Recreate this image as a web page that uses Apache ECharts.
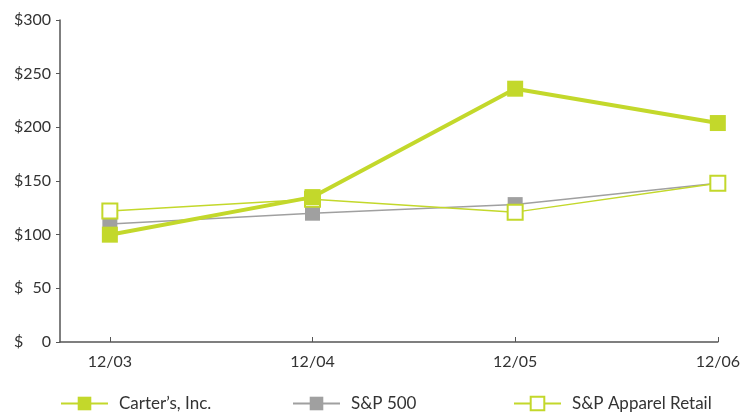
<!doctype html>
<html>
	<head>
		<meta charset="UTF-8">
		<title>Carter's performance</title>
		<script src="https://cdn.jsdelivr.net/npm/echarts@6/dist/echarts.min.js"></script>
		<style>
			html, body { margin: 0; padding: 0; background: #fff; }
			#chart { width: 743px; height: 413px; }
		</style>
	</head>
	<body>
		<div id="chart"></div>
		<script type="text/javascript">
			var categories = ['12/03', '12/04', '12/05', '12/06'];
			var carters = [100, 135, 236, 204];
			var sp500 = [110, 120, 128, 148];
			var apparel = [122, 133, 121, 148];
			var yTicks = [0, 50, 100, 150, 200, 250, 300];

			var green = '#c3d82b';
			var grey = '#a0a0a0';
			var textColor = '#333';
			var font = 'Lato';

			// x is a value axis so the y axis can sit left of the first category
			function toPoints(values) {
				var pts = [];
				for (var i = 0; i < values.length; i++) {
					pts.push([i, values[i]]);
				}
				return pts;
			}
			var idx = categories.map(function(c, i) { return i; });

			function legendFor(name, left) {
				return {
					data: [name],
					left: left,
					top: 390,
					itemWidth: 47,
					itemHeight: 17,
					itemGap: 0,
					textStyle: { fontFamily: font, fontSize: 17, color: textColor, padding: [0, 0, 0, 6] }
				};
			}

			var chart = echarts.init(document.getElementById('chart'));
			chart.setOption({
				animation: false,
				grid: { left: 60, right: 23, top: 20, bottom: 71 },
				legend: [
					legendFor("Carter’s, Inc.", 55),
					legendFor('S&P 500', 287),
					legendFor('S&P Apparel Retail', 508)
				],
				xAxis: {
					type: 'value',
					min: -0.246,
					max: categories.length - 1,
					splitLine: { show: false },
					axisLine: { lineStyle: { color: '#555', width: 1.5 } },
					axisTick: { inside: true, length: 5, customValues: idx, lineStyle: { color: '#555' } },
					axisLabel: {
						customValues: idx,
						margin: 12,
						fontFamily: font, fontSize: 16, color: textColor,
						formatter: function(v) { return categories[Math.round(v)]; }
					}
				},
				yAxis: {
					type: 'value',
					min: 0,
					max: 300,
					interval: 50,
					splitLine: { show: false },
					axisLine: { show: true, onZero: false, lineStyle: { color: '#555', width: 1.5 } },
					axisTick: { show: true, length: 4, lineStyle: { color: '#555' } },
					axisLabel: {
						margin: 9,
						customValues: yTicks,
						formatter: function(v) { return '{d|$}{n|' + v + '}'; },
						rich: {
							d: { width: 10, align: 'left', fontFamily: font, fontSize: 16, color: textColor },
							n: { width: 27, align: 'right', fontFamily: font, fontSize: 16, color: textColor }
						}
					}
				},
				series: [{
					name: "Carter’s, Inc.",
					type: 'line',
					z: 4,
					data: toPoints(carters),
					symbol: 'rect',
					symbolSize: 16,
					lineStyle: { color: green, width: 4 },
					itemStyle: { color: green }
				}, {
					name: 'S&P 500',
					type: 'line',
					z: 2,
					data: toPoints(sp500),
					symbol: 'rect',
					symbolSize: 15,
					lineStyle: { color: grey, width: 1.5 },
					itemStyle: { color: grey }
				}, {
					name: 'S&P Apparel Retail',
					type: 'line',
					z: 3,
					data: toPoints(apparel),
					symbol: 'rect',
					symbolSize: 15,
					showAllSymbol: true,
					lineStyle: { color: green, width: 1.5 },
					itemStyle: { color: '#fff', borderColor: green, borderWidth: 2 }
				}]
			});
		</script>
	</body>
</html>
